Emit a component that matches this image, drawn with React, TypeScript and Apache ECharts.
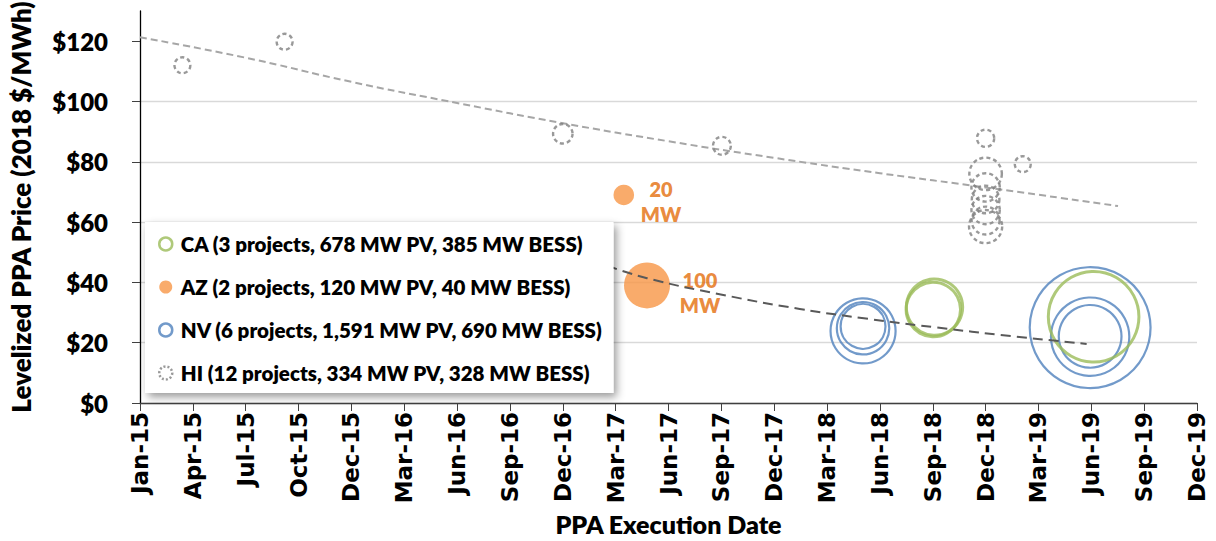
import React, { useEffect, useRef } from "react";
import * as echarts from "echarts";

// ---------- data ----------
const X_TICK_LABELS = [
  "Jan-15", "Apr-15", "Jul-15", "Oct-15", "Dec-15", "Mar-16", "Jun-16",
  "Sep-16", "Dec-16", "Mar-17", "Jun-17", "Sep-17", "Dec-17", "Mar-18",
  "Jun-18", "Sep-18", "Dec-18", "Mar-19", "Jun-19", "Sep-19", "Dec-19",
];
const TICK_STEP_DAYS = 91;
const ORIGIN_DATE = "2015-01-01";

const CA_NAME = "CA (3 projects, 678 MW PV, 385 MW BESS)";
const CA_DATES = ["2018-09-30", "2018-09-28", "2019-07-01"];
const CA_PRICES = [31.8, 31.0, 28.6];
const CA_MW = [150, 140, 388];

const AZ_NAME = "AZ (2 projects, 120 MW PV, 40 MW BESS)";
const AZ_DATES = ["2017-04-13", "2017-05-23"];
const AZ_PRICES = [69, 39];
const AZ_MW = [20, 100];

const NV_NAME = "NV (6 projects, 1,591 MW PV, 690 MW BESS)";
const NV_DATES = ["2018-05-30", "2018-05-30", "2018-05-30", "2019-06-25", "2019-06-25", "2019-06-25"];
const NV_PRICES = [23.9, 24.8, 25.4, 25.0, 22.0, 22.1];
const NV_MW = [200, 130, 95, 690, 290, 186];

const HI_NAME = "HI (12 projects, 334 MW PV, 328 MW BESS)";
const HI_DATES = [
  "2015-03-15", "2015-09-07", "2016-12-29", "2017-09-29", "2018-12-27", "2019-03-01",
  "2018-12-27", "2018-12-27", "2018-12-27", "2018-12-27", "2018-12-27", "2018-12-27",
];
const HI_PRICES = [112, 119.8, 89.3, 85.3, 87.8, 79.2, 76, 71.5, 67.5, 64, 60.5, 58.5];
const HI_MW = [12, 12, 18, 15, 14, 12, 50, 38, 36, 38, 37, 52];

// trend lines (days since Jan-15, $/MWh)
const HI_TREND_DAYS = [0, 182, 364, 546, 728, 910, 1092, 1274, 1456, 1684];
const HI_TREND_VALUES = [121.3, 114.5, 106.5, 99.5, 92.8, 86.8, 81.3, 76.2, 71.5, 65.3];
const MAIN_TREND_DAYS = [805, 873, 1000, 1136, 1250, 1365, 1500, 1630];
const MAIN_TREND_VALUES = [45.5, 41.4, 36, 31.2, 28, 25.2, 22.2, 19.6];

const Y_TICKS = [0, 20, 40, 60, 80, 100, 120];

// ---------- helpers ----------
const dayOf = (d: string) => (Date.parse(d) - Date.parse(ORIGIN_DATE)) / 86400000;
const pts = (dates: string[], prices: number[], mw: number[]) =>
  dates.map((d, i) => [dayOf(d), prices[i], mw[i]]);
const bubbleSize = (v: number[]) => 4.6 * Math.sqrt(v[2]);

const FONT = "Lato";
const HEAVY = 800;
const C_GREEN = "#9BBB59";
const C_ORANGE = "#F79646";
const C_BLUE = "#4F81BD";
const C_GRAY = "#7F7F7F";

export default function App() {
  const ref = useRef<HTMLDivElement>(null);

  useEffect(() => {
    if (!ref.current) return;
    const chart = echarts.init(ref.current, undefined, { renderer: "svg" });

    const option: any = {
      animation: false,
      backgroundColor: "#ffffff",
      grid: { left: 140, right: 19, top: 11, bottom: 138, outerBoundsMode: "none" },
      xAxis: {
        type: "value",
        min: 0,
        max: TICK_STEP_DAYS * (X_TICK_LABELS.length - 1),
        interval: TICK_STEP_DAYS,
        name: "PPA Execution Date",
        nameLocation: "middle",
        nameGap: 104,
        nameTextStyle: { fontFamily: FONT, fontWeight: HEAVY, fontSize: 25, color: "#000" },
        axisLine: { show: true, lineStyle: { color: "#404040", width: 1.3 } },
        axisTick: { show: true, length: 8, lineStyle: { color: "#404040" } },
        splitLine: { show: false },
        axisLabel: {
          rotate: 90,
          margin: 9,
          fontFamily: "DejaVu Sans",
          fontWeight: "bold",
          fontSize: 23,
          color: "#000",
          formatter: (v: number) => X_TICK_LABELS[Math.round(v / TICK_STEP_DAYS)] ?? "",
        },
      },
      yAxis: {
        type: "value",
        min: 0,
        max: 130,
        interval: 20,
        name: "Levelized PPA Price (2018 $/MWh)",
        nameLocation: "middle",
        nameGap: 106,
        nameTextStyle: { fontFamily: FONT, fontWeight: HEAVY, fontSize: 26, color: "#000" },
        axisLine: { show: true, lineStyle: { color: "#000", width: 1.3 } },
        axisTick: { show: true, length: 8, lineStyle: { color: "#404040" }, customValues: Y_TICKS },
        splitLine: {
          show: true,
          showMaxLine: false,
          lineStyle: { color: ["#D9D9D9", "#D9D9D9", "#D9D9D9", "#D9D9D9", "#D9D9D9", "#D9D9D9", "#D9D9D9", "rgba(0,0,0,0)"], width: 1.3 },
        },
        axisLabel: {
          margin: 32,
          fontFamily: FONT,
          fontWeight: HEAVY,
          fontSize: 24,
          color: "#000",
          customValues: Y_TICKS,
          formatter: (v: number) => "$" + v,
        },
      },
      legend: {
        orient: "vertical",
        left: 145,
        top: 222,
        padding: [11, 11, 9, 13],
        itemGap: 21,
        itemWidth: 20,
        itemHeight: 13,
        backgroundColor: "#ffffff",
        shadowBlur: 8,
        shadowColor: "rgba(0,0,0,0.4)",
        shadowOffsetX: 3,
        shadowOffsetY: 4,
        z: 10,
        textStyle: { fontFamily: FONT, fontWeight: HEAVY, fontSize: 20.5, lineHeight: 22, color: "#000" },
        data: [
          { name: CA_NAME, icon: "circle", itemStyle: { color: "#fff", borderColor: C_GREEN, borderWidth: 2.5 } },
          { name: AZ_NAME, icon: "circle", itemStyle: { color: C_ORANGE, borderWidth: 0 } },
          { name: NV_NAME, icon: "circle", itemStyle: { color: "#fff", borderColor: C_BLUE, borderWidth: 2.5 } },
          { name: HI_NAME, icon: "circle", itemStyle: { color: "#fff", borderColor: C_GRAY, borderWidth: 2.5, borderType: [2, 2] } },
        ],
      },
      series: [
        {
          name: "HI trend",
          type: "line",
          data: HI_TREND_DAYS.map((d, i) => [d, HI_TREND_VALUES[i]]),
          smooth: true,
          showSymbol: false,
          lineStyle: { color: "#A6A6A6", width: 2, type: [7, 4] },
          z: 1,
        },
        {
          name: "Main trend",
          type: "line",
          data: MAIN_TREND_DAYS.map((d, i) => [d, MAIN_TREND_VALUES[i]]),
          smooth: true,
          showSymbol: false,
          lineStyle: { color: "#595959", width: 2, type: [10, 6] },
          z: 3,
        },
        {
          name: HI_NAME,
          type: "scatter",
          data: pts(HI_DATES, HI_PRICES, HI_MW),
          symbolSize: bubbleSize,
          itemStyle: { color: "rgba(0,0,0,0)", borderColor: C_GRAY, borderWidth: 2.4, borderType: [4, 3] },
          z: 2,
        },
        {
          name: NV_NAME,
          type: "scatter",
          data: pts(NV_DATES, NV_PRICES, NV_MW),
          symbolSize: bubbleSize,
          itemStyle: { color: "rgba(0,0,0,0)", borderColor: C_BLUE, borderWidth: 2.2 },
          z: 2,
        },
        {
          name: AZ_NAME,
          type: "scatter",
          data: pts(AZ_DATES, AZ_PRICES, AZ_MW).map((v, i) => ({
            value: v,
            label: { distance: i === 0 ? 27 : 30 },
          })),
          symbolSize: bubbleSize,
          itemStyle: { color: C_ORANGE },
          label: {
            show: true,
            position: "right",
            align: "center",
            offset: [0, 7],
            fontFamily: FONT,
            fontWeight: HEAVY,
            fontSize: 20,
            lineHeight: 25,
            color: "#E46C0A",
            formatter: (p: any) => p.value[2] + "\nMW",
          },
          z: 2,
        },
        {
          name: CA_NAME,
          type: "scatter",
          data: pts(CA_DATES, CA_PRICES, CA_MW),
          symbolSize: bubbleSize,
          itemStyle: { color: "rgba(0,0,0,0)", borderColor: C_GREEN, borderWidth: 3 },
          z: 2,
        },
      ],
    };

    chart.setOption(option);
    return () => chart.dispose();
  }, []);

  return (
    <div
      ref={ref}
      style={{ position: "fixed", left: 0, top: 0, width: 1216, height: 541, background: "#fff" }}
    />
  );
}
